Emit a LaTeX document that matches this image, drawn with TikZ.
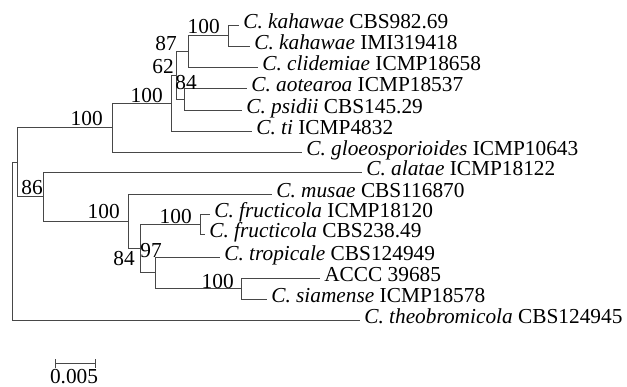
\documentclass[tikz,border=0pt]{standalone}
\usepackage{fontspec}
\setmainfont{Liberation Serif}
\begin{document}
\begin{tikzpicture}[x=0.75pt, y=-0.75pt, font=\fontsize{16}{18}\selectfont]
    \tikzset{branch/.style={draw=black!72, line width=0.75pt},
        leaf/.style={anchor=west, inner xsep=3pt, inner ysep=0pt, text height=8pt, text depth=2.8pt},
        boot/.style={anchor=base east, inner sep=0pt}}
    \useasboundingbox (0,0) rectangle (627,386);
    % internal nodes
    \coordinate (root) at (12.5,241.5);
    \coordinate (nA) at (17.5,162.5);
    \coordinate (nB) at (112.5,127.5);
    \coordinate (nD) at (171.5,103.5);
    \coordinate (nE) at (176.5,75.5);
    \coordinate (nF) at (188.5,51.5);
    \coordinate (nG) at (228.5,35.5);
    \coordinate (nH) at (184.5,99.5);
    \coordinate (nC) at (43.5,196.5);
    \coordinate (nI) at (128.5,221.5);
    \coordinate (nJ) at (140.5,248.5);
    \coordinate (nK) at (200.5,224.5);
    \coordinate (nL) at (155.5,272.5);
    \coordinate (nM) at (241.5,288.5);
    % taxa
    \node[leaf] (kah1) at (239,25.5) {\textit{C. kahawae} CBS982.69};
    \node[leaf] (kah2) at (250,46.5) {\textit{C. kahawae} IMI319418};
    \node[leaf] (cli) at (258,67.5) {\textit{C. clidemiae} ICMP18658};
    \node[leaf] (aot) at (247,88.5) {\textit{C. aotearoa} ICMP18537};
    \node[leaf] (psi) at (242,110.5) {\textit{C. psidii} CBS145.29};
    \node[leaf] (ti) at (252,131.5) {\textit{C. ti} ICMP4832};
    \node[leaf] (glo) at (302,152.5) {\textit{C. gloeosporioides} ICMP10643};
    \node[leaf] (ala) at (362,172.5) {\textit{C. alatae} ICMP18122};
    \node[leaf] (mus) at (272,194.5) {\textit{C. musae} CBS116870};
    \node[leaf] (fru1) at (210,214.5) {\textit{C. fructicola} ICMP18120};
    \node[leaf] (fru2) at (205,234.5) {\textit{C. fructicola} CBS238.49};
    \node[leaf] (tro) at (220,257.5) {\textit{C. tropicale} CBS124949};
    \node[leaf] (accc) at (320,278.5) {ACCC 39685};
    \node[leaf] (sia) at (267,299.5) {\textit{C. siamense} ICMP18578};
    \node[leaf] (theo) at (360,320.5) {\textit{C. theobromicola} CBS124945};
    % branches
    \draw[branch] (root) |- (nA);
    \draw[branch] (root) |- (theo);
    \draw[branch] (nA) |- (nB);
    \draw[branch] (nA) |- (nC);
    \draw[branch] (nB) |- (nD);
    \draw[branch] (nB) |- (glo);
    \draw[branch] (nD) |- (nE);
    \draw[branch] (nD) |- (ti);
    \draw[branch] (nE) |- (nF);
    \draw[branch] (nE) |- (nH);
    \draw[branch] (nF) |- (nG);
    \draw[branch] (nF) |- (cli);
    \draw[branch] (nG) |- (kah1);
    \draw[branch] (nG) |- (kah2);
    \draw[branch] (nH) |- (aot);
    \draw[branch] (nH) |- (psi);
    \draw[branch] (nC) |- (ala);
    \draw[branch] (nC) |- (nI);
    \draw[branch] (nI) |- (mus);
    \draw[branch] (nI) |- (nJ);
    \draw[branch] (nJ) |- (nK);
    \draw[branch] (nJ) |- (nL);
    \draw[branch] (nK) |- (fru1);
    \draw[branch] (nK) |- (fru2);
    \draw[branch] (nL) |- (tro);
    \draw[branch] (nL) |- (nM);
    \draw[branch] (nM) |- (accc);
    \draw[branch] (nM) |- (sia);
    % bootstrap values
    \node[boot] (bB) at (103,125) {100};
    \node[boot] (bD) at (163,102) {100};
    \node[boot] (bE) at (174,73) {62};
    \node[boot] (bF) at (177,50) {87};
    \node[boot] (bG) at (220,33) {100};
    \node[boot] (bH) at (197,89) {84};
    \node[boot] (bC) at (43,194) {86};
    \node[boot] (bI) at (120,218) {100};
    \node[boot] (bJ) at (135,265) {84};
    \node[boot] (bK) at (192,223) {100};
    \node[boot] (bL) at (162,257) {97};
    \node[boot] (bM) at (234,288) {100};
    % scale bar
    \coordinate (sb1) at (55,363.5);
    \coordinate (sb2) at (96,363.5);
    \draw[branch, |-|] (sb1) -- (sb2);
    \node[anchor=base, inner sep=0pt] (sblabel) at (74,383) {0.005};
\end{tikzpicture}
\end{document}
